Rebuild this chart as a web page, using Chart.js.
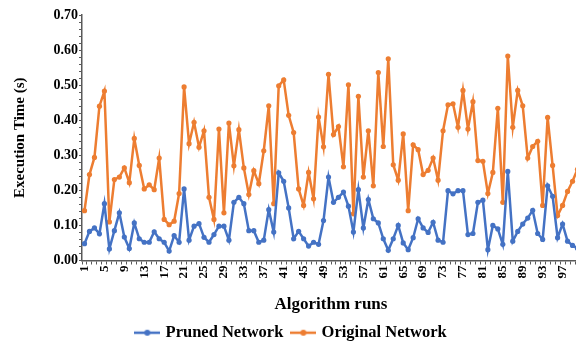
<!DOCTYPE html>
<html>
<head>
<meta charset="utf-8">
<script src="https://cdn.jsdelivr.net/npm/chart.js@4.4.1/dist/chart.umd.min.js"></script>
<style>
  html, body { margin: 0; padding: 0; background: #fff; overflow: hidden; width: 576px; height: 348px; }
  /* the original is cropped on the right: the canvas is a bit wider than the frame */
  #frame { width: 576px; height: 348px; overflow: hidden; position: relative; }
  #myChart { display: block; position: absolute; left: 0; top: 0; }
</style>
</head>
<body>
<div id="frame"><canvas id="myChart" width="584" height="348"></canvas></div>
<script>
// runs 1..100
const runs = Array.from({ length: 100 }, (_, i) => String(i + 1));

const pruned = [
  0.048, 0.083, 0.093, 0.076, 0.162, 0.033, 0.085, 0.136, 0.067, 0.034,
  0.107, 0.062, 0.052, 0.052, 0.082, 0.062, 0.052, 0.027, 0.071, 0.052,
  0.204, 0.058, 0.098, 0.105, 0.066, 0.052, 0.074, 0.098, 0.098, 0.058,
  0.166, 0.180, 0.162, 0.085, 0.085, 0.052, 0.058, 0.145, 0.081, 0.250,
  0.226, 0.150, 0.062, 0.083, 0.062, 0.041, 0.052, 0.046, 0.114, 0.238,
  0.166, 0.180, 0.195, 0.155, 0.081, 0.202, 0.093, 0.174, 0.119, 0.107,
  0.062, 0.029, 0.062, 0.100, 0.050, 0.031, 0.065, 0.119, 0.093, 0.080,
  0.109, 0.058, 0.052, 0.199, 0.190, 0.199, 0.199, 0.074, 0.077, 0.166,
  0.172, 0.031, 0.100, 0.090, 0.046, 0.254, 0.055, 0.083, 0.104, 0.121,
  0.143, 0.077, 0.060, 0.213, 0.183, 0.065, 0.104, 0.055, 0.043, 0.035
];

const original = [
  0.142, 0.245, 0.294, 0.440, 0.483, 0.110, 0.231, 0.238, 0.264, 0.222,
  0.348, 0.271, 0.204, 0.216, 0.202, 0.292, 0.117, 0.102, 0.112, 0.191,
  0.495, 0.333, 0.394, 0.323, 0.370, 0.180, 0.117, 0.375, 0.136, 0.392,
  0.270, 0.373, 0.264, 0.188, 0.256, 0.219, 0.313, 0.441, 0.162, 0.498,
  0.515, 0.414, 0.365, 0.204, 0.157, 0.251, 0.176, 0.409, 0.324, 0.531,
  0.359, 0.382, 0.267, 0.501, 0.133, 0.468, 0.238, 0.370, 0.213, 0.536,
  0.325, 0.575, 0.273, 0.229, 0.361, 0.142, 0.330, 0.316, 0.245, 0.257,
  0.292, 0.229, 0.370, 0.444, 0.447, 0.380, 0.485, 0.375, 0.453, 0.285,
  0.283, 0.191, 0.251, 0.434, 0.166, 0.583, 0.380, 0.485, 0.441, 0.292,
  0.325, 0.340, 0.157, 0.408, 0.271, 0.128, 0.157, 0.197, 0.226, 0.260
];

const BLUE = '#4472C4';
const ORANGE = '#ED7D31';
const FONT = '"Liberation Serif", "Times New Roman", serif';

// little "line with a dot" sample for the legend, like Excel's
function legendMark(color) {
  const c = document.createElement('canvas');
  c.width = 26; c.height = 8;
  const g = c.getContext('2d');
  g.strokeStyle = color; g.lineWidth = 2.5;
  g.beginPath(); g.moveTo(0, 4); g.lineTo(26, 4); g.stroke();
  g.fillStyle = color;
  g.beginPath(); g.arc(13, 4, 3, 0, Math.PI * 2); g.fill();
  return c;
}

document.addEventListener('DOMContentLoaded', function () {
  const ctx = document.getElementById('myChart').getContext('2d');

  new Chart(ctx, {
    type: 'line',
    data: {
      labels: runs,
      datasets: [{
        label: 'Pruned Network',
        data: pruned,
        borderColor: BLUE,
        backgroundColor: BLUE,
        borderWidth: 2.5,
        pointRadius: 2.6,
        pointBorderWidth: 0,
        tension: 0
      }, {
        label: 'Original Network',
        data: original,
        borderColor: ORANGE,
        backgroundColor: ORANGE,
        borderWidth: 2.5,
        pointRadius: 2.6,
        pointBorderWidth: 0,
        tension: 0
      }]
    },
    options: {
      responsive: false,
      animation: false,
      layout: { padding: { top: 15, left: 2, right: 2, bottom: -3 } },
      plugins: {
        tooltip: { enabled: false },
        legend: {
          position: 'bottom',
          labels: {
            usePointStyle: true,
            pointStyleWidth: 20,
            padding: 10,
            color: '#000',
            font: { family: FONT, size: 16.5, weight: 'bold' },
            generateLabels: function (chart) {
              return chart.data.datasets.map((ds, i) => ({
                text: ds.label,
                pointStyle: legendMark(ds.borderColor),
                fillStyle: ds.borderColor,
                strokeStyle: ds.borderColor,
                lineWidth: 0,
                hidden: false,
                datasetIndex: i,
                fontColor: '#000'
              }));
            }
          }
        }
      },
      scales: {
        x: {
          offset: true,
          afterFit: s => { s.height = 54; s.paddingLeft = 0; s.paddingRight = 0; },
          grid: { drawOnChartArea: false, color: '#595959', tickLength: 4, offset: true },
          border: { color: '#595959', width: 1.5 },
          ticks: {
            autoSkip: false,
            maxRotation: 90,
            minRotation: 90,
            padding: 1,
            color: '#000',
            font: { family: FONT, size: 13, weight: 'bold' },
            callback: function (v, i) { return i % 4 === 0 ? runs[i] : ''; }
          },
          title: {
            display: true,
            text: 'Algorithm runs',
            color: '#000',
            padding: { top: 0, bottom: 0 },
            font: { family: FONT, size: 17, weight: 'bold' }
          }
        },
        y: {
          min: 0,
          max: 0.7,
          afterFit: s => { s.width = 80; },
          grid: { drawOnChartArea: false, color: '#595959', tickLength: 3 },
          border: { color: '#595959', width: 1.5 },
          ticks: {
            stepSize: 0.02,
            autoSkip: false,
            padding: 1,
            color: '#000',
            font: { family: FONT, size: 14, weight: 'bold' },
            callback: function (v) {
              const t = v * 10;
              return Math.abs(t - Math.round(t)) < 1e-6 ? v.toFixed(2) : '';
            }
          },
          title: {
            display: true,
            text: 'Execution Time (s)',
            color: '#000',
            padding: { top: 9, bottom: 0 },
            font: { family: FONT, size: 15, weight: 'bold' }
          }
        }
      }
    }
  });
});
</script>
</body>
</html>
